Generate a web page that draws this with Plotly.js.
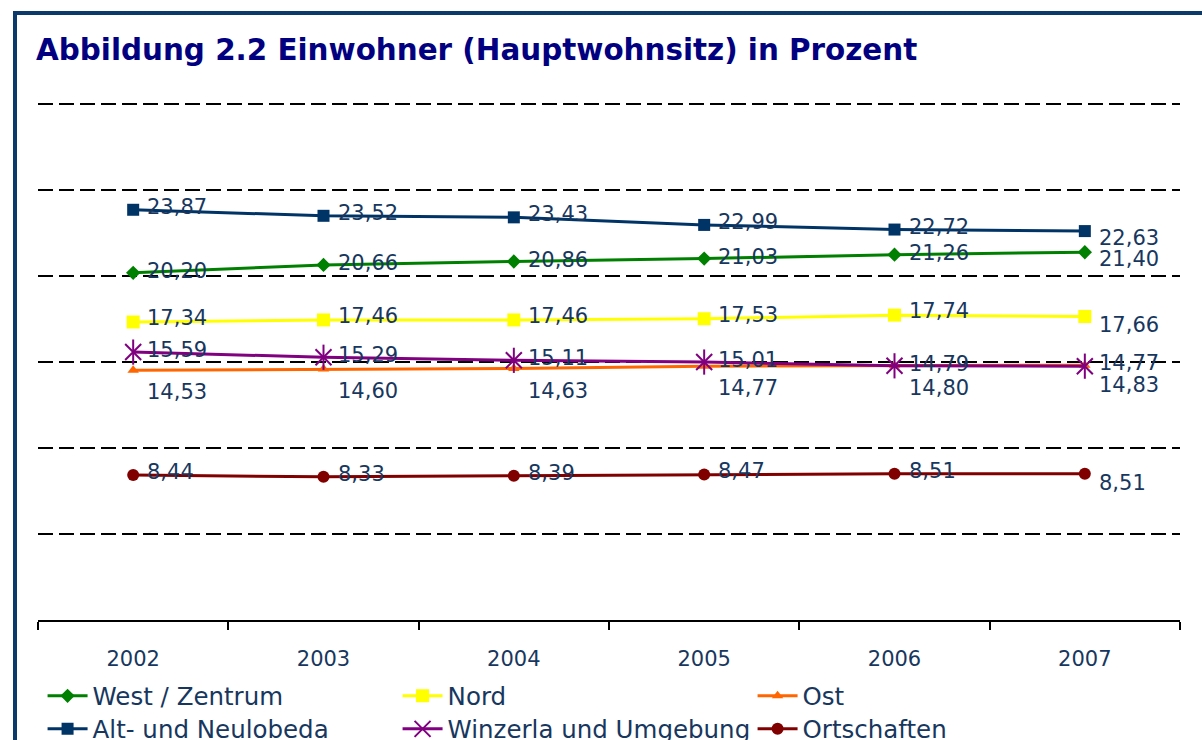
<!DOCTYPE html>
<html>
<head>
<meta charset="utf-8">
<script src="https://cdn.plot.ly/plotly-3.0.1.min.js"></script>
<style>
  html, body { margin:0; padding:0; width:1202px; height:740px; overflow:hidden; background:#fff; }
  #frame { position:absolute; left:13px; top:11px; width:1400px; height:900px;
           border-left:4px solid #0B3A6A; border-top:4px solid #0B3A6A; }
  #chart { position:absolute; left:0; top:0; width:1202px; height:800px; }
</style>
</head>
<body>
<div id="frame"></div>
<div id="chart"></div>
<script>
// ---- data ----
const years = ['2002', '2003', '2004', '2005', '2006', '2007'];
const westZentrum = [20.20, 20.66, 20.86, 21.03, 21.26, 21.40];
const nord        = [17.34, 17.46, 17.46, 17.53, 17.74, 17.66];
const ost         = [14.53, 14.60, 14.63, 14.77, 14.80, 14.83];
const altNeulobeda= [23.87, 23.52, 23.43, 22.99, 22.72, 22.63];
const winzerla    = [15.59, 15.29, 15.11, 15.01, 14.79, 14.77];
const ortschaften = [8.44, 8.33, 8.39, 8.47, 8.51, 8.51];
const seriesNames = ['West / Zentrum', 'Nord', 'Ost', 'Alt- und Neulobeda', 'Winzerla und Umgebung', 'Ortschaften'];

const FONT = 'DejaVu Sans, Verdana, sans-serif';
const LABEL_COLOR = '#17375E';

const styles = [
  {y: westZentrum, color:'#008000', symbol:'diamond', size:11, legend:'legend', mid:2, last:-7},
  {y: nord, color:'#FFFF00', symbol:'square', size:13, legend:'legend', mid:4, last:-8},
  {y: ost, color:'#FF6600', symbol:'triangle-up', size:10, legend:'legend', mid:-22, last:-20},
  {y: altNeulobeda, color:'#003366', symbol:'square', size:12, legend:'legend2', mid:3, last:-7},
  {y: winzerla, color:'#800080', symbol:'x-thin-open', size:16, legend:'legend2', mid:2, last:3},
  {y: ortschaften, color:'#800000', symbol:'circle', size:12, legend:'legend2', mid:3, last:-9}
];

const traces = [];
const annotations = [];
styles.forEach((s, i) => {
  const isStar = s.symbol === 'x-thin-open';
  traces.push({
    type:'scatter', mode:'lines+markers', x: years, y: s.y, name: seriesNames[i],
    legend: s.legend,
    line:{color:s.color, width:3},
    marker: isStar ? {symbol:s.symbol, size:s.size, color:s.color, line:{color:s.color, width:2}}
                   : {symbol:s.symbol, size:s.size, color:s.color, line:{width:0}}
  });
  if (isStar) {
    traces.push({
      type:'scatter', mode:'markers', x: years, y: s.y, showlegend:false,
      marker:{symbol:'line-ns-open', size:18, color:s.color, line:{color:s.color, width:2}}
    });
  }
  s.y.forEach((v, j) => {
    annotations.push({
      x: j, y: v, xref:'x', yref:'y', showarrow:false,
      text: v.toFixed(2).replace('.', ','),
      xanchor:'left', yanchor:'middle', xshift: 12,
      yshift: j === years.length - 1 ? s.last : s.mid,
      font:{family:FONT, size:21, color:LABEL_COLOR}
    });
  });
});

const H = 800;
const layout = {
  width:1202, height:H,
  margin:{l:38, r:22, t:100.6, b:H-620},
  paper_bgcolor:'rgba(0,0,0,0)', plot_bgcolor:'rgba(0,0,0,0)',
  font:{family:FONT, color:LABEL_COLOR},
  title:{
    text:'Abbildung 2.2 Einwohner (Hauptwohnsitz) in Prozent',
    x:36/1202, xref:'container', xanchor:'left',
    y:1-50/H, yref:'container', yanchor:'middle',
    font:{family:FONT, size:29.4, color:'#000080', weight:'bold'}
  },
  xaxis:{
    type:'category', range:[-0.5, 5.5], tickson:'boundaries',
    ticks:'outside', ticklen:8, tickwidth:1.5, tickcolor:'#000',
    showline:true, linecolor:'#000', linewidth:1.5,
    showgrid:false, zeroline:false,
    ticklabelstandoff:19,
    tickfont:{family:FONT, size:21, color:LABEL_COLOR}
  },
  yaxis:{
    range:[0, 30.2], dtick:5, tick0:0,
    showgrid:true, gridcolor:'#000', gridwidth:2, griddash:'15px,6px',
    showticklabels:false, ticks:'', showline:false, zeroline:false
  },
  showlegend:true,
  legend:{
    orientation:'h', x:0.004, xanchor:'left', y:(620-696)/519.4, yanchor:'middle',
    entrywidth:300, entrywidthmode:'pixels', itemwidth:40,
    font:{family:FONT, size:24.5, color:LABEL_COLOR}, bgcolor:'rgba(0,0,0,0)', borderwidth:0,
    traceorder:'normal'
  },
  legend2:{
    orientation:'h', x:0.004, xanchor:'left', y:(620-729)/519.4, yanchor:'middle',
    entrywidth:300, entrywidthmode:'pixels', itemwidth:40,
    font:{family:FONT, size:24.5, color:LABEL_COLOR}, bgcolor:'rgba(0,0,0,0)', borderwidth:0,
    traceorder:'normal'
  },
  annotations: annotations
};

Plotly.newPlot('chart', traces, layout, {displayModeBar:false});
</script>
</body>
</html>
